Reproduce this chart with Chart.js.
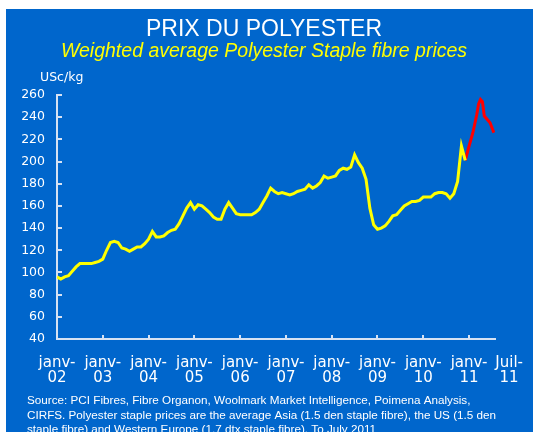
<!DOCTYPE html>
<html>
<head>
<meta charset="utf-8">
<script src="https://cdn.jsdelivr.net/npm/chart.js@4"></script>
<style>
  html, body { margin: 0; padding: 0; background: #ffffff; }
  #wrap { position: absolute; left: 6px; top: 9px; width: 527px; height: 423px; background: #0066CC; }
  canvas { display: block; }
</style>
</head>
<body>
<div id="wrap"><canvas id="polyChart" width="527" height="423"></canvas></div>
<script>
// monthly prices from janv-02 (USc/kg), month index 0 = janv-02
const yellowValues = [
  96, 94, 96, 97, 101, 105, 108, 108, 108, 108, 109, 110,
  112, 120, 127, 128, 127, 122, 121, 119, 121, 123, 123, 126,
  130, 137, 132, 132, 133, 136, 138, 139, 144, 151, 158, 163,
  157, 161, 160, 157, 154, 150, 148, 148, 157, 163, 158, 153,
  152, 152, 152, 152, 154, 157, 163, 169, 176, 173, 171, 172,
  171, 170, 171, 173, 174, 175, 179, 176, 178, 181, 187, 185,
  186, 187, 192, 194, 193, 195, 206, 199, 194, 184, 158, 143,
  139, 140, 142, 146, 151, 152, 156, 160, 162, 164, 164, 165,
  168, 168, 168, 171, 172, 172, 171, 167, 171, 182, 214, 201
];
const redMonths = [107, 108, 109, 110, 110.5, 111, 111.5, 112, 113, 113.5, 114.5];
const redValues = [201, 214, 226, 242, 252, 256, 254, 241, 237, 235, 226];

const xTickMonths = [0, 12, 24, 36, 48, 60, 72, 84, 96, 108, 118.5];
const xTickLabels = [
  ['janv-', '02'], ['janv-', '03'], ['janv-', '04'], ['janv-', '05'], ['janv-', '06'],
  ['janv-', '07'], ['janv-', '08'], ['janv-', '09'], ['janv-', '10'], ['janv-', '11'],
  ['Juil-', '11']
];
const yTicks = [40, 60, 80, 100, 120, 140, 160, 180, 200, 220, 240, 260];

const titleText = 'PRIX DU POLYESTER';
const subtitleText = 'Weighted average Polyester Staple fibre prices';
const unitText = 'USc/kg';
const sourceLines = [
  'Source: PCI Fibres, Fibre Organon, Woolmark Market Intelligence, Poimena Analysis,',
  'CIRFS. Polyester staple prices are the average Asia (1.5 den staple fibre), the US (1.5 den',
  'staple fibre) and Western Europe (1.7 dtx staple fibre). To July 2011'
];

const axisColor = '#D6E2F3';

// titles, unit and source note
const extraText = {
  id: 'extraText',
  afterDraw(chart) {
    const ctx = chart.ctx;
    ctx.save();
    ctx.textBaseline = 'middle';
    ctx.textAlign = 'center';
    ctx.fillStyle = '#ffffff';
    ctx.font = '23px "Liberation Sans", Arial';
    ctx.fillText(titleText, 258, 21);
    ctx.fillStyle = '#FFFF00';
    ctx.font = 'italic 19.5px "Liberation Sans", Arial';
    ctx.fillText(subtitleText, 258, 42.5);

    ctx.fillStyle = '#ffffff';
    ctx.textAlign = 'left';
    ctx.textBaseline = 'alphabetic';
    ctx.font = '12.5px "DejaVu Sans"';
    ctx.fillText(unitText, 34, 71.5);

    ctx.font = '11.7px "Liberation Sans", Arial';
    ctx.textBaseline = 'middle';
    sourceLines.forEach((line, i) => {
      ctx.fillText(line, 21, 392 + i * 14.3);
    });
    ctx.restore();
  }
};

const ctx = document.getElementById('polyChart').getContext('2d');

new Chart(ctx, {
  type: 'line',
  data: {
    datasets: [
      {
        data: yellowValues.map((v, i) => ({ x: i, y: v })),
        borderColor: '#FFFF00',
        borderWidth: 3,
        pointRadius: 0,
        tension: 0
      },
      {
        data: redMonths.map((m, i) => ({ x: m, y: redValues[i] })),
        borderColor: '#FF0000',
        borderWidth: 3,
        pointRadius: 0,
        tension: 0
      }
    ]
  },
  options: {
    responsive: false,
    animation: false,
    layout: { padding: { left: 0, right: 38, top: 86, bottom: 0 } },
    scales: {
      x: {
        type: 'linear',
        min: 0,
        max: 114.8,
        afterBuildTicks: (scale) => {
          scale.ticks = xTickMonths.map(v => ({ value: v }));
        },
        afterFit: (scale) => {
          scale.height = 93;
          scale.paddingLeft = 0;
          scale.paddingRight = 0;
        },
        ticks: {
          autoSkip: false,
          maxRotation: 0,
          padding: 20,
          color: '#ffffff',
          font: { family: 'DejaVu Sans', size: 15, lineHeight: 1.03 },
          callback: (value, index) => xTickLabels[index]
        },
        grid: {
          drawOnChartArea: false,
          drawTicks: true,
          tickLength: -4,
          lineWidth: 2,
          color: (c) => (c.tick && (c.tick.value === 0 || c.tick.value > 115)) ? 'rgba(0,0,0,0)' : axisColor
        },
        border: { color: axisColor, width: 2 }
      },
      y: {
        min: 40,
        max: 260,
        afterBuildTicks: (scale) => {
          scale.ticks = yTicks.map(v => ({ value: v }));
        },
        afterFit: (scale) => { scale.width = 51; },
        ticks: {
          padding: 17,
          color: '#ffffff',
          font: { family: 'DejaVu Sans', size: 12.5 }
        },
        grid: {
          drawOnChartArea: false,
          drawTicks: true,
          tickLength: -5,
          lineWidth: 2,
          color: axisColor
        },
        border: { color: axisColor, width: 2 }
      }
    },
    plugins: {
      legend: { display: false },
      tooltip: { enabled: false }
    }
  },
  plugins: [extraText]
});
</script>
</body>
</html>
